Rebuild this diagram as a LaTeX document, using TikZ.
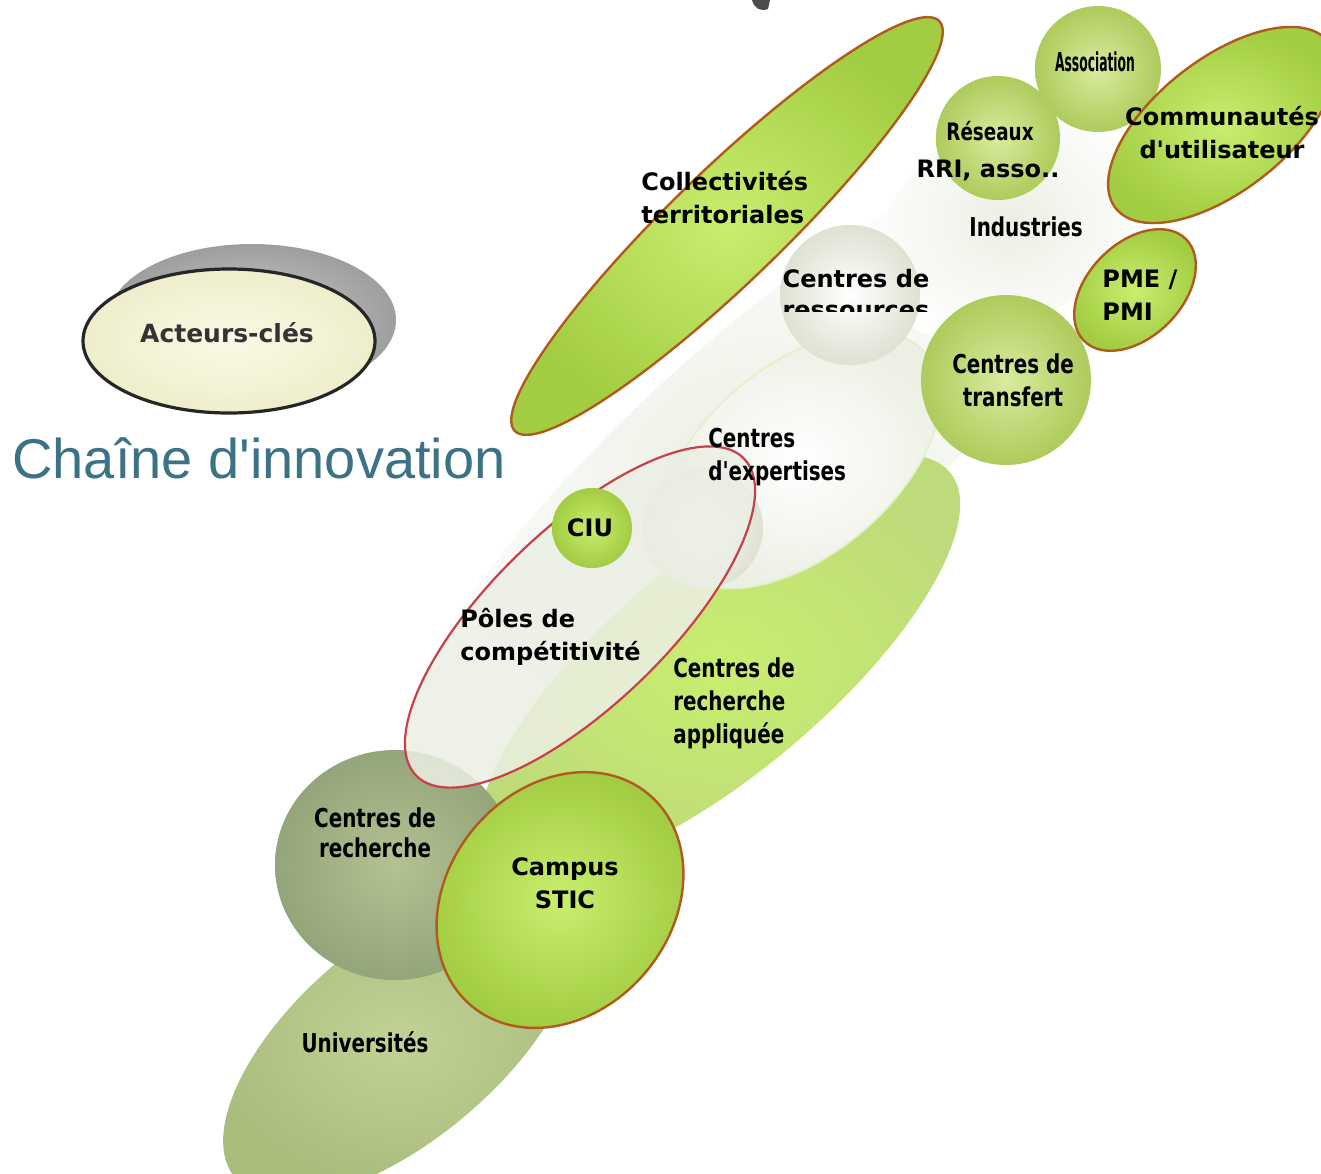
\documentclass[tikz,border=0pt]{standalone}
\usepackage{fontspec}
\newfontfamily\vb{DejaVu Sans}
\newfontfamily\nb[FakeStretch=0.85]{DejaVu Sans Condensed}
\newfontfamily\ls{Liberation Sans}
\definecolor{lgin}{HTML}{C8EE6E}
\definecolor{lgout}{HTML}{A2CC42}
\definecolor{brn}{HTML}{B05A1C}
\definecolor{redl}{HTML}{C8404C}
\definecolor{sphin}{HTML}{D8EC9E}
\definecolor{sphout}{HTML}{AECB5C}
\definecolor{olivin}{HTML}{B4C292}
\definecolor{olivout}{HTML}{93A57A}
\definecolor{univin}{HTML}{C2D296}
\definecolor{univout}{HTML}{A8BC7C}
\definecolor{pale}{HTML}{ECEFE4}
\definecolor{paleout}{HTML}{DDE2D2}
\definecolor{tealc}{HTML}{3B7285}
\definecolor{cream}{HTML}{FAFAE6}
\definecolor{creamout}{HTML}{EEEECC}
\tikzset{
  lbl/.style={font=\vb\bfseries\fontsize{12}{16.5}\selectfont, align=center, inner sep=0pt, text=black},
  nlbl/.style={font=\nb\bfseries\fontsize{13}{16.5}\selectfont, align=center, inner sep=0pt, text=black},
  greenell/.style={inner color=lgin, outer color=lgout},
  sphere/.style={inner color=sphin, outer color=sphout},
  brnline/.style={draw=brn, line width=1.2pt},
}
\begin{document}
\begin{tikzpicture}[x=0.5pt,y=0.5pt]
\useasboundingbox (0,0) rectangle (1321,-1173);
\fill[white] (0,0) rectangle (1321,-1173);
% fragment at the top
\fill[black!70] (752,0) .. controls (754,-8) and (760,-12) .. (768,-9) -- (770,0) -- cycle;
% big pale band
\shade[rotate around={42:(760,-470)}, inner color=pale, outer color=white] (760,-470) ellipse [x radius=470, y radius=130];
\shade[rotate around={35:(1010,-220)}, inner color=pale, outer color=white] (1010,-220) ellipse [x radius=150, y radius=100];
% Collectivites territoriales
\shade[rotate around={44:(727,-226)}, greenell] (727,-226) ellipse [x radius=295, y radius=56];
\draw[rotate around={44:(727,-226)}, brnline] (727,-226) ellipse [x radius=295, y radius=56];
% Centres de recherche appliquee
\shade[rotate around={40:(720,-665)}, inner color=lgin, outer color=white!30!lgout] (720,-665) ellipse [x radius=300, y radius=108];
% Centres d'expertises
\shade[rotate around={40:(800,-460)}, inner color=white, outer color=pale] (800,-460) ellipse [x radius=165, y radius=95];
\draw[rotate around={40:(800,-460)}, white!70!lgout, line width=0.8pt] (800,-460) ellipse [x radius=165, y radius=95];
\shade[inner color=white!95!pale, outer color=paleout] (703,-528) circle [radius=60];
% Universites
\shade[rotate around={40:(400,-1040)}, inner color=univin, outer color=univout] (400,-1040) ellipse [x radius=215, y radius=100];
% Centres de recherche
\shade[inner color=olivin, outer color=olivout] (395,-865) ellipse [x radius=120, y radius=115];
% Poles de competitivite
\fill[rotate around={44:(580,-617)}, pale, opacity=0.85] (580,-617) ellipse [x radius=228, y radius=88];
\draw[rotate around={44:(580,-617)}, redl, line width=1.1pt] (580,-617) ellipse [x radius=228, y radius=88];
% CIU
\shade[greenell] (592,-528) circle [radius=40];
% Campus STIC
\shade[rotate around={50:(560,-900)}, greenell] (560,-900) ellipse [x radius=138, y radius=112];
\draw[rotate around={50:(560,-900)}, brnline] (560,-900) ellipse [x radius=138, y radius=112];
% Centres de ressources
\shade[inner color=white, outer color=paleout] (850,-295) circle [radius=70];
% Centres de transfert
\shade[sphere] (1006,-380) circle [radius=85];
% Reseaux
\shade[sphere] (998,-138) circle [radius=62];
% Association
\shade[sphere] (1098,-69) circle [radius=63];
% Communautes d'utilisateur
\shade[rotate around={38:(1222,-125)}, greenell] (1222,-125) ellipse [x radius=135, y radius=66];
\draw[rotate around={38:(1222,-125)}, brnline] (1222,-125) ellipse [x radius=135, y radius=66];
% PME / PMI
\shade[rotate around={45:(1135,-290)}, greenell] (1135,-290) ellipse [x radius=72, y radius=47];
\draw[rotate around={45:(1135,-290)}, brnline] (1135,-290) ellipse [x radius=72, y radius=47];
% Acteurs-cles
\shade[inner color=black!20, outer color=black!38] (252,-320) ellipse [x radius=144, y radius=76];
\shade[inner color=cream, outer color=creamout] (229,-341) ellipse [x radius=146, y radius=72];
\draw[black!85, line width=1.6pt] (229,-341) ellipse [x radius=146, y radius=72];
% texts
\node[lbl, text=black!80, font=\vb\bfseries\fontsize{12.5}{15}\selectfont] (acteurs) at (227,-333) {Acteurs-clés};
\node[anchor=base west, inner sep=0pt, text=tealc, font=\ls\fontsize{28}{30}\selectfont] (titre) at (12,-478) {Chaîne d'innovation};
\node[lbl, anchor=west, align=left] (coll) at (641,-198) {Collectivités\\territoriales};
\node[nlbl, font=\nb\bfseries\fontsize{12}{16}\selectfont] (reseaux) at (990,-131) {Réseaux};
\node[lbl] (rri) at (988,-170) {RRI, asso..};
\node[nlbl] (indus) at (1026,-227) {Industries};
\node[lbl] (commu) at (1222,-133) {Communautés\\d'utilisateur};
\node[lbl] (ressA) at (856,-279) {Centres de};
\begin{scope}
\clip (770,-295) rectangle (945,-311);
\node[lbl] (ressB) at (856,-312) {ressources};
\end{scope}
\node[lbl, anchor=west, align=left] (pme) at (1102,-295) {PME /\\PMI};
\node[nlbl] (transf) at (1013,-380) {Centres de\\transfert};
\node[nlbl, anchor=west, align=left] (expert) at (708,-457) {Centres\\d'expertises};
\node[lbl] (ciu) at (590,-528) {CIU};
\node[lbl, anchor=west, align=left] (poles) at (460,-637) {Pôles de\\compétitivité};
\node[nlbl, anchor=west, align=left] (appl) at (673,-703) {Centres de\\recherche\\appliquée};
\node[nlbl, font=\nb\bfseries\fontsize{13}{15}\selectfont] (rech) at (375,-833) {Centres de\\recherche};
\node[lbl] (campus) at (565,-883) {Campus\\STIC};
\node[nlbl] (univ) at (365,-1042) {Universités};
\node[nlbl] (assoc) at (1095,-62) {\scalebox{0.62}[1]{Association}};
\end{tikzpicture}
\end{document}
